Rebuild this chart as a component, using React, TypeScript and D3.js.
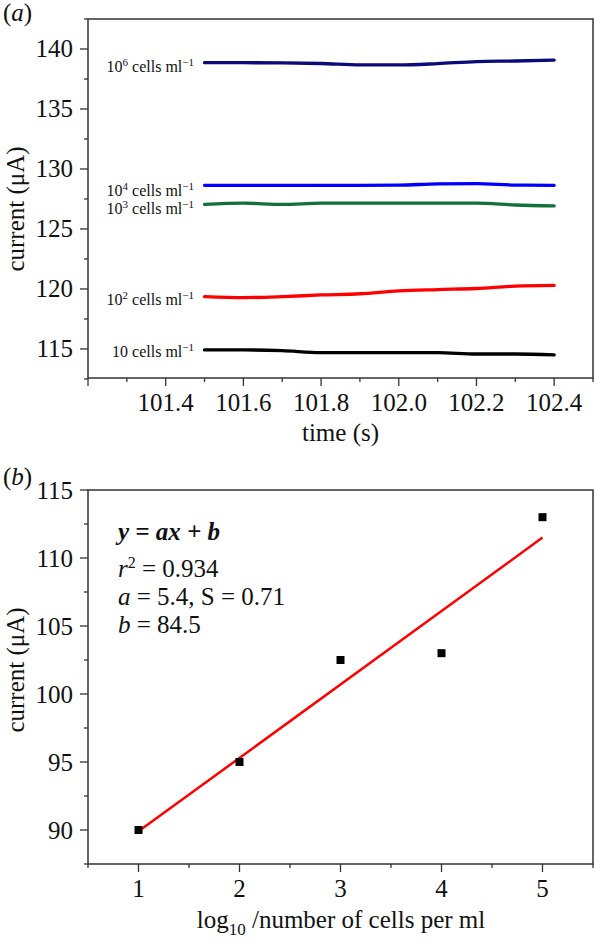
import React from "react";
import * as d3 from "d3";

// ---------- Panel (a) data ----------
const timePoints = [101.5, 101.6, 101.7, 101.8, 101.9, 102.0, 102.1, 102.2, 102.3, 102.4];
const seriesExp = ["6", "4", "3", "2", ""];
const currentE6 = [138.86, 138.86, 138.84, 138.79, 138.68, 138.67, 138.78, 138.95, 139.0, 139.08];
const currentE4 = [128.64, 128.64, 128.64, 128.64, 128.64, 128.65, 128.76, 128.78, 128.66, 128.64];
const currentE3 = [127.05, 127.15, 127.05, 127.15, 127.15, 127.15, 127.15, 127.15, 127.0, 126.92];
const currentE2 = [119.36, 119.28, 119.36, 119.5, 119.6, 119.84, 119.95, 120.04, 120.24, 120.3];
const currentE1 = [114.92, 114.92, 114.86, 114.7, 114.7, 114.7, 114.7, 114.58, 114.58, 114.5];
const seriesColors = ["#0a0a78", "#0000ff", "#12703a", "#ff0000", "#000000"];
const labelDy = [9, 11, 10, 8, 7];

const aYTicks = [115, 120, 125, 130, 135, 140];
const aXTicks = [101.4, 101.6, 101.8, 102.0, 102.2, 102.4];

// ---------- Panel (b) data ----------
const logCells = [1, 2, 3, 4, 5];
const currentB = [90, 95, 102.5, 103, 113];
const fitA = 5.4;
const fitB = 84.5;
const bYTicks = [90, 95, 100, 105, 110, 115];
const bXTicks = [1, 2, 3, 4, 5];

const FONT = "'Liberation Serif', Tinos, 'Times New Roman', serif";
const AXIS = "#333";

export default function App() {
  const ax = d3.scaleLinear().domain([101.2, 102.5]).range([88, 593]);
  const ay = d3.scaleLinear().domain([112.58, 142.5]).range([378, 19]);
  const bx = d3.scaleLinear().domain([0.5, 5.5]).range([88, 593]);
  const by = d3.scaleLinear().domain([87.5, 115]).range([864, 490]);

  const seriesA = [currentE6, currentE4, currentE3, currentE2, currentE1];
  const lineA = d3
    .line<number>()
    .x((_, i) => ax(timePoints[i]))
    .y((d) => ay(d))
    .curve(d3.curveMonotoneX);

  const aMinorX = d3.range(101.2, 102.51, 0.1);
  const aMinorY = d3.range(112.5, 142.51, 2.5);
  const bMinorX = d3.range(0.5, 5.51, 0.5);
  const bMinorY = d3.range(87.5, 115.01, 2.5);

  const fitX = [1, 5];
  const T = { fontFamily: FONT, fill: "#111" };

  return (
    <svg
      width={595}
      height={942}
      style={{ position: "absolute", left: 0, top: 0, background: "#fff", fontFamily: FONT }}
    >
      <rect x={0} y={0} width={595} height={942} fill="#fff" />

      {/* ================= Panel (a) ================= */}
      <text {...T} x={3} y={21} fontSize={25}>
        (<tspan fontStyle="italic">a</tspan>)
      </text>

      {aMinorX.map((t, i) => (
        <line key={"amx" + i} x1={ax(t)} x2={ax(t)} y1={378} y2={Math.round(t * 10) % 2 === 0 ? 386 : 382} stroke={AXIS} strokeWidth={1.3} />
      ))}
      {aMinorY.map((t, i) => (
        <line key={"amy" + i} x1={88} x2={Math.round(t * 2) % 2 === 0 ? 80 : 84} y1={ay(t)} y2={ay(t)} stroke={AXIS} strokeWidth={1.3} />
      ))}
      {aYTicks.map((t) => (
        <text {...T} key={"ayt" + t} x={73} y={ay(t)} dy="0.34em" textAnchor="end" fontSize={25}>
          {t}
        </text>
      ))}
      {aXTicks.map((t) => (
        <text {...T} key={"axt" + t} x={ax(t)} y={411} textAnchor="middle" fontSize={25}>
          {t.toFixed(1)}
        </text>
      ))}
      <rect x={88} y={19} width={505} height={359} fill="none" stroke={AXIS} strokeWidth={1.5} />

      {seriesA.map((s, i) => (
        <path key={"al" + i} d={lineA(s) || ""} fill="none" stroke={seriesColors[i]} strokeWidth={3.3} strokeLinecap="round" />
      ))}
      {seriesA.map((s, i) => (
        <text {...T} key={"alab" + i} x={194} y={ay(s[0]) + labelDy[i]} textAnchor="end" fontSize={16}>
          <tspan>10</tspan>
          {seriesExp[i] ? (
            <tspan dy={-6} fontSize={11}>
              {seriesExp[i]}
            </tspan>
          ) : null}
          <tspan dy={seriesExp[i] ? 6 : 0}> cells ml</tspan>
          <tspan dy={-6} fontSize={11}>
            −1
          </tspan>
        </text>
      ))}

      <text {...T} x={340.5} y={441} textAnchor="middle" fontSize={25}>
        time (s)
      </text>
      <text {...T} transform="translate(24,209) rotate(-90)" textAnchor="middle" fontSize={25}>
        current (μA)
      </text>

      {/* ================= Panel (b) ================= */}
      <text {...T} x={3} y={485} fontSize={25}>
        (<tspan fontStyle="italic">b</tspan>)
      </text>

      {bMinorX.map((t, i) => (
        <line key={"bmx" + i} x1={bx(t)} x2={bx(t)} y1={864} y2={Number.isInteger(t) ? 872 : 868} stroke={AXIS} strokeWidth={1.3} />
      ))}
      {bMinorY.map((t, i) => (
        <line key={"bmy" + i} x1={88} x2={t % 5 === 0 ? 80 : 84} y1={by(t)} y2={by(t)} stroke={AXIS} strokeWidth={1.3} />
      ))}
      {bYTicks.map((t) => (
        <text {...T} key={"byt" + t} x={73} y={by(t)} dy="0.34em" textAnchor="end" fontSize={25}>
          {t}
        </text>
      ))}
      {bXTicks.map((t) => (
        <text {...T} key={"bxt" + t} x={bx(t)} y={897} textAnchor="middle" fontSize={25}>
          {t}
        </text>
      ))}
      <rect x={88} y={490} width={505} height={374} fill="none" stroke={AXIS} strokeWidth={1.5} />

      <line
        x1={bx(fitX[0])}
        y1={by(fitA * fitX[0] + fitB)}
        x2={bx(fitX[1])}
        y2={by(fitA * fitX[1] + fitB)}
        stroke="#ff0000"
        strokeWidth={2.5}
      />
      {logCells.map((x, i) => (
        <rect key={"pt" + i} x={bx(x) - 4} y={by(currentB[i]) - 4} width={8} height={8} fill="#000" />
      ))}

      <text {...T} x={118} y={540} fontSize={25} fontStyle="italic" fontWeight="bold">
        y = ax + b
      </text>
      <text {...T} x={118} y={577} fontSize={25}>
        <tspan fontStyle="italic">r</tspan>
        <tspan dy={-9} fontSize={16}>2</tspan>
        <tspan dy={9}> = 0.934</tspan>
      </text>
      <text {...T} x={118} y={605} fontSize={25}>
        <tspan fontStyle="italic">a</tspan> = 5.4, S = 0.71
      </text>
      <text {...T} x={118} y={633} fontSize={25}>
        <tspan fontStyle="italic">b</tspan> = 84.5
      </text>

      <text {...T} x={341} y={928} textAnchor="middle" fontSize={25}>
        log<tspan dy={7} fontSize={17}>10</tspan>
        <tspan dy={-7}> /number of cells per ml</tspan>
      </text>
      <text {...T} transform="translate(24,670) rotate(-90)" textAnchor="middle" fontSize={25}>
        current (μA)
      </text>
    </svg>
  );
}
